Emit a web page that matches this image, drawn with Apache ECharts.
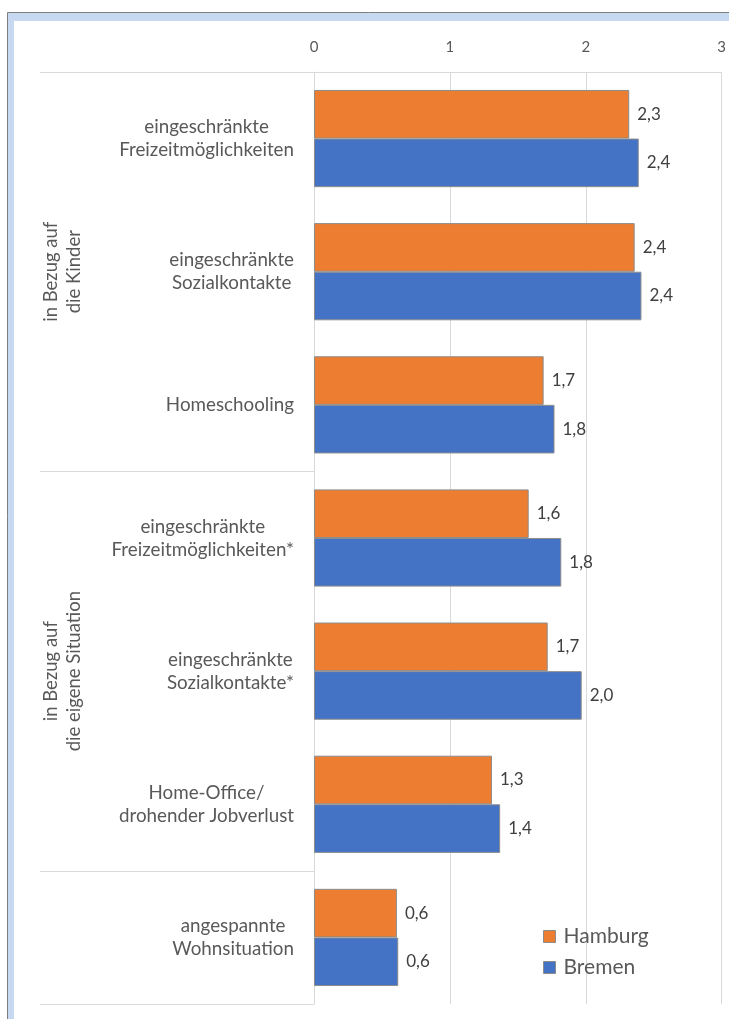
<!DOCTYPE html>
<html>
<head>
<meta charset="utf-8">
<script src="https://cdn.jsdelivr.net/npm/echarts@6/dist/echarts.min.js"></script>
<style>
  html, body { margin: 0; padding: 0; background: #ffffff; }
  #chart { width: 729px; height: 1019px; }
</style>
</head>
<body>
<div id="chart"></div>
<script>
// ---- data ----
const categories = [
  'eingeschränkte\nFreizeitmöglichkeiten',
  'eingeschränkte\nSozialkontakte',
  'Homeschooling',
  'eingeschränkte\nFreizeitmöglichkeiten*',
  'eingeschränkte\nSozialkontakte*',
  'Home-Office/\ndrohender Jobverlust',
  'angespannte\nWohnsituation'
];
const hamburg = [2.32, 2.36, 1.69, 1.58, 1.72, 1.31, 0.61];
const bremen  = [2.39, 2.41, 1.77, 1.82, 1.97, 1.37, 0.62];
const seriesNames = ['Hamburg', 'Bremen'];
const groups = [
  { label: 'in Bezug auf\ndie Kinder', first: 0, last: 2 },
  { label: 'in Bezug auf\ndie eigene Situation', first: 3, last: 5 },
  { label: '', first: 6, last: 6 }
];
const xTicks = [0, 1, 2, 3];

const FONT = 'Lato';
const TXT = '#595959';
const GRID = '#d9d9d9';

const chart = echarts.init(document.getElementById('chart'), null, { renderer: 'canvas' });

function fmt(v) { return v.toFixed(1).replace('.', ','); }

const option = {
  backgroundColor: '#ffffff',
  animation: false,
  grid: { left: 314, right: 7, top: 72, bottom: 15, containLabel: false },
  legend: {
    orient: 'vertical',
    left: 538,
    top: 921,
    itemWidth: 12,
    itemHeight: 12,
    itemGap: 10,
    icon: 'rect',
    data: seriesNames,
    itemStyle: { borderColor: '#8c8c8c', borderWidth: 1 },
    textStyle: { color: TXT, fontFamily: FONT, fontSize: 21, padding: [0, 0, 0, 3] }
  },
  xAxis: {
    type: 'value',
    position: 'top',
    min: xTicks[0], max: xTicks[xTicks.length - 1], interval: 1,
    axisLine: { show: true, lineStyle: { color: GRID, width: 1 } },
    axisTick: { show: false },
    splitLine: { show: true, lineStyle: { color: GRID, width: 1 } },
    axisLabel: {
      color: TXT, fontFamily: FONT, fontSize: 15, margin: 17,
      formatter: v => String(v)
    }
  },
  yAxis: {
    type: 'category',
    inverse: true,
    data: categories,
    axisLine: { show: true, lineStyle: { color: GRID } },
    axisTick: { show: false },
    axisLabel: {
      margin: 20,
      color: TXT, fontFamily: FONT, fontSize: 18.8, lineHeight: 23,
      formatter: v => v.split('\n').map(l => '{c|' + l + '}').join('\n'),
      rich: { c: { align: 'center', color: TXT, fontFamily: FONT, fontSize: 18.8, lineHeight: 23 } }
    }
  },
  series: [
    {
      name: seriesNames[0], type: 'bar', data: hamburg,
      barGap: '0%', barCategoryGap: '27%',
      itemStyle: { color: '#ED7D31', borderColor: '#8c8c8c', borderWidth: 1 },
      label: { show: true, position: 'right', distance: 8, color: '#404040',
               fontFamily: FONT, fontSize: 17, formatter: p => fmt(p.value) }
    },
    {
      name: seriesNames[1], type: 'bar', data: bremen,
      barGap: '0%', barCategoryGap: '27%',
      itemStyle: { color: '#4472C4', borderColor: '#8c8c8c', borderWidth: 1 },
      label: { show: true, position: 'right', distance: 8, color: '#404040',
               fontFamily: FONT, fontSize: 17, formatter: p => fmt(p.value) }
    }
  ]
};
chart.setOption(option);

// ---- frame, group separators and group labels ----
const yTop = chart.convertToPixel({ yAxisIndex: 0 }, 0);
const yNext = chart.convertToPixel({ yAxisIndex: 0 }, 1);
const band = yNext - yTop;
function boundary(i) { return yTop - band / 2 + band * i; }
const x0 = chart.convertToPixel({ xAxisIndex: 0 }, 0);

const graphics = [
  { type: 'rect', z: -10, silent: true, shape: { x: 7.5, y: 12.5, width: 760, height: 1060 },
    style: { fill: '#C6D9F1', stroke: '#7f7f7f', lineWidth: 1 } },
  { type: 'rect', z: -9, silent: true, shape: { x: 14, y: 21, width: 760, height: 1060 },
    style: { fill: '#ffffff' } }
];
const sepIdx = [0, 3, 6, 7];
sepIdx.forEach(i => {
  const y = Math.round(boundary(i)) + 0.5;
  graphics.push({ type: 'line', silent: true, z: 5,
    shape: { x1: 40, y1: y, x2: x0, y2: y },
    style: { stroke: GRID, lineWidth: 1 } });
});
groups.forEach(g => {
  if (!g.label) return;
  const mid = (g.first + g.last) / 2;
  const yc = chart.convertToPixel({ yAxisIndex: 0 }, mid);
  graphics.push({ type: 'text', silent: true, z: 5,
    x: 63, y: yc, rotation: Math.PI / 2,
    style: { text: g.label, fill: TXT, fontFamily: FONT, fontSize: 18.5, lineHeight: 23,
             align: 'center', verticalAlign: 'middle' } });
});
chart.setOption({ graphic: graphics });
</script>
</body>
</html>
